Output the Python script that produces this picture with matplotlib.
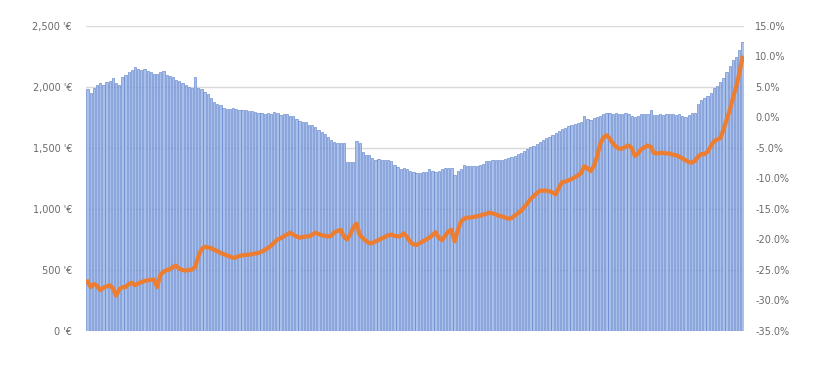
import matplotlib
matplotlib.use("Agg")
import matplotlib.pyplot as plt
from matplotlib.ticker import FuncFormatter

price = [
    1980, 1950, 1990, 2020, 2030, 2020, 2040, 2050, 2070, 2030,
    2020, 2080, 2100, 2120, 2140, 2160, 2150, 2140, 2150, 2130,
    2120, 2110, 2110, 2120, 2130, 2100, 2090, 2080, 2060, 2050,
    2030, 2020, 2000, 1990, 2080, 1990, 1980, 1960, 1940, 1910,
    1880, 1860, 1850, 1830, 1820, 1820, 1825, 1820, 1815, 1810,
    1810, 1805, 1800, 1795, 1790, 1785, 1780, 1785, 1780, 1795,
    1790, 1770, 1780, 1775, 1760, 1760, 1740, 1720, 1710, 1710,
    1690, 1690, 1670, 1650, 1630, 1615, 1590, 1565, 1550, 1545,
    1545, 1540, 1385, 1385, 1385, 1560, 1540, 1470, 1445, 1440,
    1420, 1405, 1410, 1405, 1400, 1400, 1390, 1360, 1345, 1325,
    1340, 1330, 1310, 1300, 1295, 1295, 1300, 1305, 1325, 1310,
    1300, 1310, 1330, 1340, 1340, 1340, 1280, 1310, 1330, 1360,
    1355, 1350, 1350, 1355, 1360, 1370, 1390, 1395, 1400, 1400,
    1400, 1405, 1410, 1420, 1425, 1435, 1450, 1460, 1475, 1490,
    1505, 1520, 1535, 1550, 1565, 1580, 1590, 1605, 1620, 1640,
    1655, 1665, 1680, 1690, 1700, 1705, 1715, 1760, 1735, 1730,
    1745, 1755, 1760, 1780, 1790, 1785, 1780, 1790, 1775, 1780,
    1785, 1775, 1760, 1755, 1765, 1775, 1780, 1780, 1810, 1770,
    1770, 1775, 1770, 1780, 1775, 1780, 1770, 1775, 1760, 1750,
    1770, 1790, 1790, 1860, 1890, 1910, 1930, 1950, 1990, 2010,
    2040, 2070, 2120, 2170, 2220, 2250, 2300, 2370,
]

change = [
    -26.9, -27.8, -27.3, -27.6, -28.3, -27.9, -27.7, -27.5, -28.0, -29.2,
    -28.2, -27.8, -27.8, -27.3, -27.1, -27.5, -27.2, -27.0, -26.8, -26.7,
    -26.6, -26.6, -27.8, -25.8, -25.3, -25.0, -24.9, -24.5, -24.3, -24.8,
    -25.0, -25.1, -25.0, -24.9, -24.5, -22.8, -21.6, -21.2, -21.3, -21.4,
    -21.7, -21.9, -22.2, -22.4, -22.6, -22.8, -23.0, -22.9, -22.7, -22.6,
    -22.5, -22.5, -22.4, -22.3, -22.2, -22.0, -21.7, -21.4, -21.0, -20.5,
    -20.0, -19.8, -19.5, -19.2, -18.9, -19.2, -19.5, -19.7, -19.6, -19.5,
    -19.5, -19.2, -18.9, -19.1, -19.3, -19.4, -19.5, -19.4, -18.8, -18.6,
    -18.4, -19.5, -20.0, -19.2, -18.0, -17.4, -19.2, -19.8, -20.2, -20.6,
    -20.6, -20.3, -20.1, -19.8, -19.6, -19.3, -19.2, -19.4, -19.5, -19.4,
    -19.0, -19.6, -20.4, -20.8, -20.9, -20.6, -20.3, -20.0, -19.7, -19.3,
    -18.8, -19.7, -20.1, -19.4, -18.7, -18.4, -20.3, -18.5, -17.1, -16.6,
    -16.4, -16.4, -16.3, -16.2, -16.1, -15.9, -15.8, -15.6, -15.7, -15.9,
    -16.1, -16.2, -16.4, -16.6, -16.5, -16.1, -15.7, -15.3, -14.7, -14.1,
    -13.4, -12.9, -12.4, -12.0, -12.0, -12.0, -12.1, -12.3, -12.6, -11.5,
    -10.6, -10.5, -10.3, -10.1, -9.8, -9.5, -9.1, -8.0, -8.3, -8.8,
    -8.0, -6.5, -4.4, -3.3, -2.9, -3.4, -4.2, -4.8, -5.1, -5.1,
    -4.8, -4.6, -5.0, -6.3, -5.9, -5.2, -4.9, -4.6, -4.8, -5.8,
    -5.9, -5.8, -5.8, -5.9, -5.9, -6.1, -6.2, -6.4, -6.7, -7.0,
    -7.3, -7.4, -7.1, -6.4, -6.0, -6.0, -5.6, -4.7, -3.9, -3.6,
    -3.4, -2.0, -0.4, 1.2, 3.2, 5.0, 7.2, 9.8,
]

left_ticks = [0, 500, 1000, 1500, 2000, 2500]
right_ticks = [-35, -30, -25, -20, -15, -10, -5, 0, 5, 10, 15]

fig = plt.figure(figsize=(8.33, 3.74), dpi=100)
ax = fig.add_axes([86/833, 1 - 331/374, (744 - 86)/833, (331 - 26)/374])
x = list(range(len(price)))
ax.bar(x, price, width=0.72, color="#a9c1ea", edgecolor="#5578c8", linewidth=0.4, zorder=2)
ax.set_xlim(-0.5, len(price) - 0.5)
ax.set_ylim(0, 2500)
ax.set_yticks(left_ticks)
ax.yaxis.set_major_formatter(FuncFormatter(lambda v, p: f"{int(v):,} '€"))
ax.grid(axis="y", color="#d9d9d9", linewidth=1)
ax.set_axisbelow(True)
ax.set_xticks([])
for s in ax.spines.values():
    s.set_visible(False)
ax.tick_params(axis="y", length=0, labelsize=7, labelcolor="#6b6b6b", pad=10)

ax2 = ax.twinx()
ax2.plot(x, change, color="#ed7d31", linewidth=3, solid_joinstyle="round", zorder=3)
ax2.set_ylim(-35, 15)
ax2.set_yticks(right_ticks)
ax2.yaxis.set_major_formatter(FuncFormatter(lambda v, p: f"{v:.1f}%"))
for s in ax2.spines.values():
    s.set_visible(False)
ax2.tick_params(axis="y", length=0, labelsize=7, labelcolor="#6b6b6b", pad=8)

fig.savefig("out.png", dpi=100)
